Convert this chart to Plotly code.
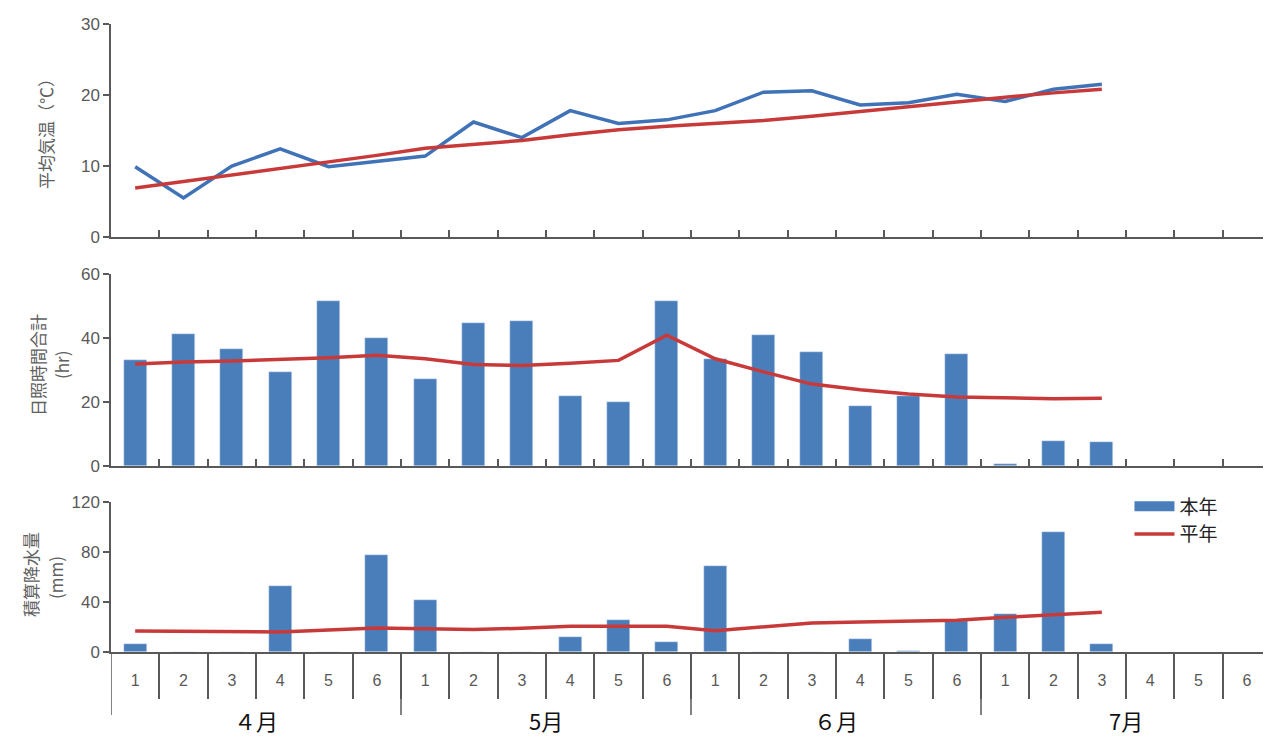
import plotly.graph_objects as go

# ---- data ----
months = ["４月", "5月", "６月", "7月"]
pentads = ["1", "2", "3", "4", "5", "6"]

temp_this = [9.9, 5.5, 10.0, 12.4, 9.9, 10.7, 11.4, 16.2, 14.0, 17.8, 16.0,
             16.5, 17.8, 20.4, 20.6, 18.6, 18.9, 20.1, 19.1, 20.8, 21.5]
temp_norm = [6.9, 7.8, 8.7, 9.6, 10.5, 11.5, 12.5, 13.0, 13.6, 14.4, 15.1,
             15.6, 16.0, 16.4, 17.0, 17.7, 18.4, 19.0, 19.7, 20.3, 20.8]

sun_this = [33.0, 41.2, 36.6, 29.5, 51.6, 40.1, 27.2, 44.7, 45.3, 22.0, 20.0,
            51.6, 33.5, 41.0, 35.5, 18.7, 21.9, 35.0, 0.5, 7.8, 7.5]
sun_norm = [31.9, 32.5, 32.8, 33.2, 33.8, 34.6, 33.5, 31.7, 31.4, 32.1, 33.0,
            40.9, 33.5, 29.4, 25.6, 23.8, 22.5, 21.6, 21.2, 21.0, 21.2]

rain_this = [6.4, 0, 0, 52.8, 0, 77.6, 41.6, 0, 0, 12.0, 25.9,
             8.0, 68.8, 0, 0, 10.7, 1.0, 24.5, 30.7, 96.0, 6.4]
rain_norm = [16.8, 16.5, 15.8, 16.0, 17.5, 19.2, 18.5, 17.9, 19.0, 20.5, 20.5,
             20.5, 17.1, 20.5, 23.2, 24.0, 24.5, 25.3, 27.7, 29.9, 31.7]

n_total = len(months) * len(pentads)
xs = list(range(len(temp_this)))
xall = list(range(n_total))
tick_text = pentads * len(months)

BLUE = "#4a7ebb"
BLUE_LINE = "#3f72b6"
RED = "#c83a3a"
AX = "#595959"
FONT = "Liberation Sans, Arial, sans-serif"

PLOT_H = 628  # plot area height in px

fig = go.Figure()

# Panel 1: temperature
fig.add_trace(go.Scatter(x=xs, y=temp_this, mode="lines", line=dict(color=BLUE_LINE, width=3.5),
                         xaxis="x", yaxis="y", showlegend=False))
fig.add_trace(go.Scatter(x=xs, y=temp_norm, mode="lines", line=dict(color=RED, width=3.5),
                         xaxis="x", yaxis="y", showlegend=False))
# Panel 2: sunshine
fig.add_trace(go.Bar(x=xs, y=sun_this, marker_color=BLUE, width=0.47,
                     xaxis="x2", yaxis="y2", showlegend=False))
fig.add_trace(go.Scatter(x=xs, y=sun_norm, mode="lines", line=dict(color=RED, width=3.5),
                         xaxis="x2", yaxis="y2", showlegend=False))
# Panel 3: precipitation
fig.add_trace(go.Bar(x=xs, y=rain_this, marker_color=BLUE, width=0.47, name="本年",
                     xaxis="x3", yaxis="y3", showlegend=False))
# legend-only entry drawn as a wide swatch (like the reference)
fig.add_trace(go.Scatter(x=[None], y=[None], mode="lines", line=dict(color=BLUE, width=10),
                         name="本年", xaxis="x3", yaxis="y3"))
fig.add_trace(go.Scatter(x=xs, y=rain_norm, mode="lines", line=dict(color=RED, width=3.5),
                         name="平年", xaxis="x3", yaxis="y3"))

rng = [-0.5, n_total - 0.5]
bounds = [i + 0.5 for i in range(n_total - 1)]

def xaxis_common(anchor, show_labels, minor_len, minor_dir):
    return dict(range=rng, anchor=anchor, showline=True, linecolor=AX, linewidth=1.5,
                showgrid=False, zeroline=False, ticks="",
                tickmode="array", tickvals=xall, ticktext=tick_text,
                showticklabels=show_labels,
                minor=dict(tickmode="array", tickvals=bounds, ticks=minor_dir,
                           ticklen=minor_len, tickcolor=AX, tickwidth=1.5, showgrid=False))

def yaxis_common(domain, rmax, dt, anchor):
    return dict(domain=domain, range=[0, rmax], dtick=dt, anchor=anchor,
                showline=True, linecolor=AX, linewidth=1.5, showgrid=False, zeroline=False,
                ticks="outside", ticklen=6, tickcolor=AX, tickwidth=1.5,
                tickfont=dict(size=17, color=AX, family=FONT))

fig.update_layout(
    width=1263, height=730,
    margin=dict(l=103, r=0, t=16, b=86),
    plot_bgcolor="white", paper_bgcolor="white",
    font=dict(family=FONT),
    bargap=0,
    xaxis=xaxis_common("y", False, 7, "inside"),
    xaxis2=xaxis_common("y2", False, 7, "inside"),
    xaxis3=dict(xaxis_common("y3", True, 45, "outside"),
                tickfont=dict(size=16, color=AX, family=FONT), ticklabelstandoff=13),
    yaxis=yaxis_common([0.6608, 1.0], 30, 10, "x"),
    yaxis2=yaxis_common([0.2962, 0.6019], 60, 20, "x2"),
    yaxis3=yaxis_common([0.0, 0.2389], 120, 40, "x3"),
    legend=dict(x=0.878, y=0.262, xanchor="left", yanchor="top",
                bgcolor="rgba(0,0,0,0)", font=dict(size=19, color="#222", family="Noto Sans CJK JP"),
                tracegroupgap=0, itemwidth=40),
)
fig.update_xaxes(matches="x")

# dividers below the bottom axis (left edge and month boundaries)
shapes = []
for k in range(len(months)):
    xv = -0.5 + k * len(pentads)
    shapes.append(dict(type="line", xref="x3", yref="paper", x0=xv, x1=xv,
                       y0=0, y1=-63 / PLOT_H, line=dict(color=AX, width=1.5)))
fig.update_layout(shapes=shapes)

ann = []
for i, m in enumerate(months):
    ann.append(dict(x=i * len(pentads) + (len(pentads) - 1) / 2, xref="x3", y=-68 / PLOT_H, yref="paper",
                    text=m, showarrow=False, yanchor="middle",
                    font=dict(size=22, color="#111", family="Noto Sans CJK JP")))

def ytitle(text, px, py):
    # px, py: page pixel centre in the reference
    return dict(x=0, xref="paper", xshift=px - 111, y=(652 - py) / PLOT_H, yref="paper",
                text=text, textangle=-90, showarrow=False, xanchor="center", yanchor="middle",
                font=dict(size=17, color="#606060", family="Noto Sans CJK JP"))

ann.append(ytitle("平均気温（℃）", 46, 130))
ann.append(ytitle("日照時間合計", 38, 365))
ann.append(ytitle("(hr)", 62, 365))
ann.append(ytitle("積算降水量", 30, 575))
ann.append(ytitle("(mm)", 55, 578))
fig.update_layout(annotations=ann)

fig.write_html("out.html")
